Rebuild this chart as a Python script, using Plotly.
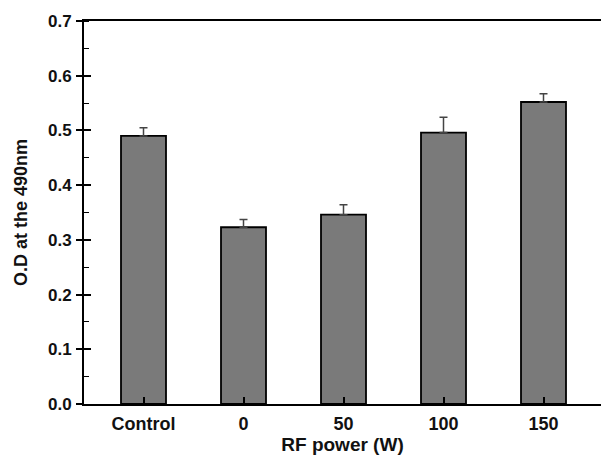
import plotly.graph_objects as go

categories = ["Control", "0", "50", "100", "150"]
od_values = [0.490, 0.323, 0.346, 0.496, 0.552]
od_errors = [0.015, 0.014, 0.018, 0.028, 0.015]
y_ticks = [0.0, 0.1, 0.2, 0.3, 0.4, 0.5, 0.6, 0.7]

font_family = "Liberation Sans, Arial, sans-serif"

fig = go.Figure()
# error bars first so the bars cover their lower end
fig.add_trace(go.Scatter(
    x=categories, y=od_values, mode="markers", marker=dict(opacity=0),
    error_y=dict(type="data", array=od_errors, arrayminus=[0] * len(od_errors),
                 symmetric=False, color="#444444", thickness=1.5, width=4),
    showlegend=False, hoverinfo="skip",
))
fig.add_trace(go.Bar(
    x=categories, y=od_values, width=0.45,
    marker=dict(color="#7a7a7a", line=dict(color="#000000", width=1.8)),
    showlegend=False,
))
# invisible trace for the overlay axis carrying inner tick marks
fig.add_trace(go.Scatter(x=categories, y=od_values, yaxis="y2", mode="markers",
                         marker=dict(opacity=0), showlegend=False, hoverinfo="skip"))

fig.update_layout(
    width=601, height=463,
    margin=dict(l=84, r=0, t=21, b=59),
    paper_bgcolor="white", plot_bgcolor="white",
    font=dict(family=font_family, color="#111111"),
    xaxis=dict(
        type="category", range=[-0.595, 4.575],
        showline=True, linecolor="#000000", linewidth=1.8, mirror=True,
        ticks="inside", ticklen=7, tickwidth=1.5, tickcolor="#000000",
        tickfont=dict(size=18, family=font_family, weight="bold"),
        ticklabelstandoff=2,
        showgrid=False, zeroline=False,
        title=dict(text="RF power (W)", font=dict(size=19, family=font_family, weight="bold"),
                   standoff=5),
    ),
    yaxis=dict(
        range=[0, 0.7], tickvals=y_ticks, tickformat=".1f",
        showline=True, linecolor="#000000", linewidth=1.8,
        ticks="outside", ticklen=6, tickwidth=1.5, tickcolor="#000000",
        minor=dict(ticks="inside", ticklen=5, tickwidth=1.2, tickcolor="#000000", dtick=0.05,
                   showgrid=False),
        tickfont=dict(size=17, family=font_family, weight="bold"),
        ticklabelstandoff=1,
        showgrid=False, zeroline=False,
        title=dict(text="O.D at the 490nm", font=dict(size=18, family=font_family, weight="bold"),
                   standoff=16),
    ),
    yaxis2=dict(
        overlaying="y", side="left", range=[0, 0.7], tickvals=y_ticks,
        showticklabels=False, showline=False, showgrid=False, zeroline=False,
        ticks="inside", ticklen=7, tickwidth=1.5, tickcolor="#000000",
    ),
)

fig.write_html("out.html")
